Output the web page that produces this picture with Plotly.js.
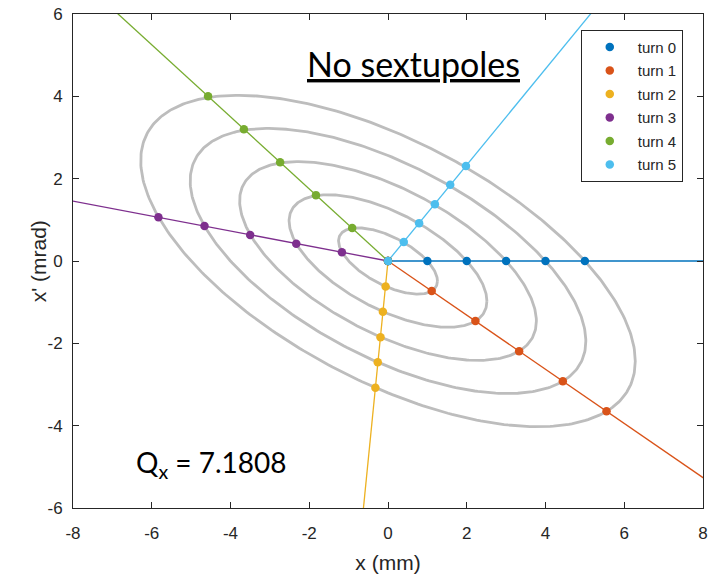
<!DOCTYPE html>
<html>
<head>
<meta charset="utf-8">
<script src="https://cdn.plot.ly/plotly-3.0.1.min.js"></script>
<style>html,body{margin:0;padding:0;background:#fff;}#plot{width:719px;height:575px;}</style>
</head>
<body>
<div id="plot"></div>
<script>
// Turn-by-turn phase-space points (x in mm, x' in mrad), amplitudes 0..5
const turnNames = ['turn 0','turn 1','turn 2','turn 3','turn 4','turn 5'];
const turnColors = ['#0072BD','#D95319','#EDB120','#7E2F8E','#77AC30','#4DBEEE'];
const turn0X = [0, 1.00, 2.00, 3.00, 4.00, 5.00];
const turn0Y = [0, 0.00, 0.00, 0.00, 0.00, 0.00];
const turn1X = [0, 1.11, 2.22, 3.33, 4.44, 5.55];
const turn1Y = [0, -0.73, -1.46, -2.19, -2.92, -3.65];
const turn2X = [0, -0.06, -0.13, -0.19, -0.26, -0.32];
const turn2Y = [0, -0.62, -1.23, -1.85, -2.46, -3.08];
const turn3X = [0, -1.17, -2.33, -3.50, -4.66, -5.83];
const turn3Y = [0, 0.21, 0.42, 0.63, 0.85, 1.06];
const turn4X = [0, -0.91, -1.83, -2.74, -3.66, -4.57];
const turn4Y = [0, 0.80, 1.60, 2.40, 3.20, 4.00];
const turn5X = [0, 0.40, 0.79, 1.19, 1.58, 1.98];
const turn5Y = [0, 0.46, 0.92, 1.38, 1.85, 2.31];
const turnXs = [turn0X, turn1X, turn2X, turn3X, turn4X, turn5X];
const turnYs = [turn0Y, turn1Y, turn2Y, turn3Y, turn4Y, turn5Y];

// Invariant ellipses: amplitudes (x at turn 0) and Twiss parameters
const amplitudes = [1, 2, 3, 4, 5];
const twissAlpha = 0.76;
const twissBeta = 1.96;

const xTicks = [-8, -6, -4, -2, 0, 2, 4, 6, 8];
const yTicks = [-6, -4, -2, 0, 2, 4, 6];

const traces = [];
const gammaT = (1 + twissAlpha * twissAlpha) / twissBeta;
amplitudes.forEach(a => {
  const twoJ = gammaT * a * a;
  const ex = [], ey = [];
  for (let i = 0; i <= 360; i++) {
    const p = i * Math.PI / 180;
    ex.push(Math.sqrt(twoJ * twissBeta) * Math.cos(p));
    ey.push(-Math.sqrt(twoJ / twissBeta) * (twissAlpha * Math.cos(p) + Math.sin(p)));
  }
  traces.push({x: ex, y: ey, mode: 'lines', line: {color: '#bdbdbd', width: 2.8}, showlegend: false, hoverinfo: 'skip'});
});

turnNames.forEach((name, k) => {
  const xs = turnXs[k], ys = turnYs[k];
  const last = xs.length - 1;
  // ray from origin through the points, extended past the axes (clipped by the plot)
  traces.push({x: [0, xs[last] * 20], y: [0, ys[last] * 20], mode: 'lines',
    line: {color: turnColors[k], width: 1.3}, showlegend: false, hoverinfo: 'skip'});
});
turnNames.forEach((name, k) => {
  traces.push({x: turnXs[k], y: turnYs[k], mode: 'markers', name: name, legendgroup: name,
    marker: {color: turnColors[k], size: 8.5}});
});

const FONT = '"Liberation Sans", Arial, sans-serif';
const axisCommon = {
  showgrid: false, zeroline: false, showline: true, mirror: 'ticks',
  linecolor: '#262626', linewidth: 1, ticks: 'inside', ticklen: 6, tickcolor: '#262626',
  tickfont: {family: FONT, size: 17, color: '#262626'}
};

const layout = {
  width: 719, height: 575,
  margin: {l: 73, r: 16, t: 14, b: 67},
  paper_bgcolor: '#fff', plot_bgcolor: '#fff',
  xaxis: Object.assign({}, axisCommon, {range: [-8, 8], tickvals: xTicks, ticktext: xTicks.map(String), ticklabelstandoff: 10,
    automargin: false,
    title: {text: 'x (mm)', font: {family: FONT, size: 21, color: '#262626'}, standoff: 12}}),
  yaxis: Object.assign({}, axisCommon, {range: [-6, 6], tickvals: yTicks, ticktext: yTicks.map(String), ticklabelstandoff: 6,
    automargin: false}),
  legend: {x: 0.806, y: 0.968, xanchor: 'left', yanchor: 'top', bgcolor: '#fff', bordercolor: '#262626', borderwidth: 1,
    font: {family: FONT, size: 15, color: '#262626'}, traceorder: 'grouped', tracegroupgap: 1, itemwidth: 46},
  annotations: [
    {x: -0.055, y: 0.5, xref: 'paper', yref: 'paper', xanchor: 'center', yanchor: 'middle', textangle: -90,
      text: "x' (mrad)", showarrow: false, font: {family: FONT, size: 21, color: '#262626'}},
    {x: 0.66, y: 4.8, xref: 'x', yref: 'y', text: '<u>No sextupoles</u>', showarrow: false,
      font: {family: 'Lato, sans-serif', size: 34, color: '#000'}},
    {x: -6.45, y: -4.92, xref: 'x', yref: 'y', xanchor: 'left', text: 'Q<sub>x</sub> = 7.1808', showarrow: false,
      font: {family: 'Lato, sans-serif', size: 28, color: '#000'}}
  ],
  showlegend: true
};

Plotly.newPlot('plot', traces, layout, {displayModeBar: false, staticPlot: true});
</script>
</body>
</html>
